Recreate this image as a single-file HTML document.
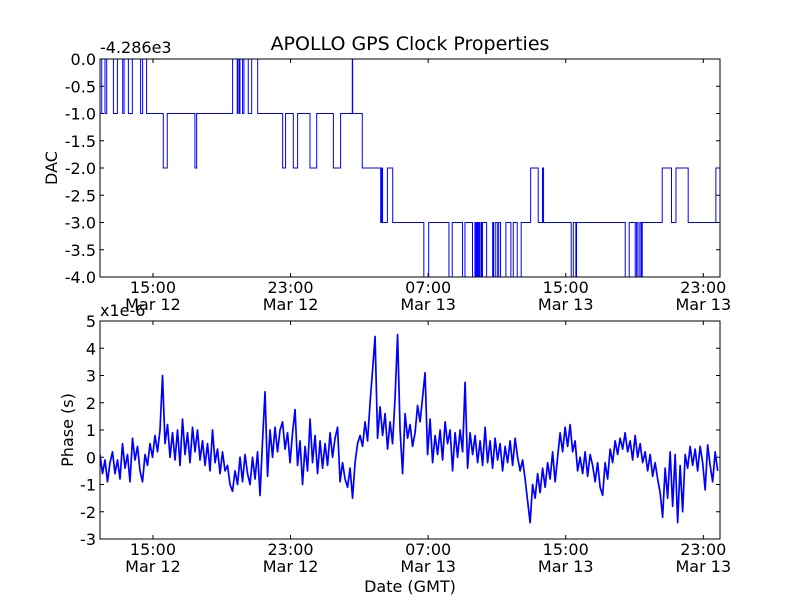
<!DOCTYPE html>
<html><head><meta charset="utf-8"><style>
body{margin:0;background:#fff;}
svg{display:block;font-family:"DejaVu Sans","Liberation Sans",sans-serif;}
</style></head><body>
<svg id="chart" width="800" height="600" viewBox="0 0 800 600" xmlns="http://www.w3.org/2000/svg">
<rect width="800" height="600" fill="#fff"/>
<text x="410" y="50" font-size="19" text-anchor="middle">APOLLO GPS Clock Properties</text>
<g id="top"></g>
<g id="bot"></g>
</svg>
<script>
// x: hours since 12:00 Mar 12
const xTickHours = [3, 11, 19, 27, 35];
const xTickTimes = ["15:00", "23:00", "07:00", "15:00", "23:00"];
const xTickDates = ["Mar 12", "Mar 12", "Mar 13", "Mar 13", "Mar 13"];
const dacTicks = [0, -0.5, -1, -1.5, -2, -2.5, -3, -3.5, -4];
const dacTickLabels = ["0.0", "-0.5", "-1.0", "-1.5", "-2.0", "-2.5", "-3.0", "-3.5", "-4.0"];
const phaseTicks = [5, 4, 3, 2, 1, 0, -1, -2, -3];
const phaseTickLabels = ["5", "4", "3", "2", "1", "0", "-1", "-2", "-3"];
// DAC change points: time (h) and value (offset -4.286e3)
const dacTimes = [-0.08,0.02,0.21,0.31,0.70,0.93,1.24,1.32,1.57,1.80,2.28,2.40,2.63,3.60,3.83,5.44,5.54,7.63,7.90,7.94,8.02,8.06,8.21,8.29,8.54,8.74,9.09,10.54,10.71,11.16,11.41,12.13,12.52,13.49,13.91,14.59,14.61,15.17,16.24,16.30,16.35,16.63,16.94,18.75,19.03,20.21,20.40,21.00,21.14,21.58,21.72,21.78,21.82,21.87,21.93,21.99,22.07,22.11,22.16,22.40,22.75,22.80,22.90,23.02,23.10,23.21,23.52,23.81,23.95,24.18,24.41,24.96,25.40,25.65,25.71,27.32,27.44,27.59,27.63,30.46,30.69,31.04,31.12,31.20,31.31,31.39,31.45,32.61,33.15,33.41,34.12,35.73];
const dacValues = [-1,0,-1,0,-1,0,-1,0,-1,0,-1,0,-1,-2,-1,-2,-1,0,-1,0,-1,0,-1,0,-1,0,-1,-2,-1,-2,-1,-2,-1,-2,-1,0,-1,-2,-3,-2,-3,-2,-3,-4,-3,-4,-3,-4,-3,-4,-3,-4,-3,-4,-3,-4,-3,-4,-3,-4,-3,-4,-3,-4,-3,-4,-3,-4,-3,-4,-3,-2,-3,-2,-3,-4,-3,-4,-3,-4,-3,-4,-3,-4,-3,-4,-3,-2,-3,-2,-3,-2];
const dacEnd = 35.97;
// Phase samples (x1e-6 s), uniform interval
const phaseStart = -0.08;
const phaseStepHours = 0.1454;
const phaseValues = [0.1,-0.6,-0.1,-0.9,-0.2,0.2,-0.6,-0.1,-0.8,0.5,-0.4,0.1,-0.9,0.7,-0.1,0.4,-0.5,-0.9,0.1,-0.3,0.5,0.0,0.8,0.2,1.0,3.0,0.5,1.2,0.0,0.9,-0.1,1.0,-0.3,1.4,0.1,0.9,-0.2,1.1,0.2,1.0,-0.1,0.6,-0.3,0.5,-0.5,1.0,-0.2,0.3,-0.6,0.2,-0.5,-0.3,-1.0,-1.25,-0.5,-1.0,0.0,-0.9,0.1,-0.6,-1.0,0.0,-0.8,0.2,-1.4,0.6,2.4,-0.7,1.0,0.0,1.1,0.2,1.0,1.3,0.3,0.9,-0.2,0.9,1.75,-0.3,0.6,-1.0,0.4,-0.5,1.4,-0.2,0.8,-0.6,0.6,-0.4,0.5,-0.3,0.9,0.0,0.7,1.1,-0.9,-0.2,-0.8,-1.1,-0.4,-1.5,-0.2,0.5,0.8,0.4,1.3,0.6,2.0,3.2,4.43,0.7,1.85,0.8,1.6,0.3,1.3,0.5,2.2,4.5,1.0,-0.6,1.6,0.7,
1.2,0.4,0.9,1.9,1.3,2.2,3.1,0.1,1.4,-0.2,0.8,0.1,1.0,-0.1,1.3,0.5,1.0,-0.5,0.9,0.0,1.0,0.2,2.75,-0.4,0.9,0.1,0.8,-0.2,0.6,-0.3,1.1,-0.2,0.6,-0.4,0.7,-0.1,0.5,-0.5,0.4,-0.2,0.6,-0.3,0.7,0.0,-0.5,-0.1,-0.8,-1.6,-2.4,-1.0,-1.5,-0.6,-1.3,-0.4,-1.1,-0.2,-0.8,0.2,-0.9,0.0,0.9,0.2,1.1,0.4,1.2,0.2,0.6,-0.5,0.0,-0.6,0.2,-0.7,0.1,-0.3,-0.9,-0.2,-1.1,-1.4,-0.2,-0.8,0.3,-0.2,0.6,0.1,0.7,0.3,0.9,0.2,0.6,-0.1,0.8,0.0,0.5,-0.2,0.2,-0.5,0.1,-0.7,-0.2,-0.8,-1.3,-2.2,-0.4,-1.5,0.2,-1.8,0.1,-2.4,-0.3,-2.0,0.1,-0.4,0.4,-0.3,0.3,-0.5,0.4,-0.2,-1.2,0.45,-0.3,-0.9,0.2,-0.5];

const NS = "http://www.w3.org/2000/svg";
const X0 = 100, X1 = 720, H0 = -0.08, H1 = 35.97;
const xs = h => X0 + (h - H0) / (H1 - H0) * (X1 - X0);
function mk(tag, attrs, parent, txt) {
  const e = document.createElementNS(NS, tag);
  for (const k in attrs) e.setAttribute(k, attrs[k]);
  if (txt !== undefined) e.textContent = txt;
  parent.appendChild(e);
  return e;
}
function axes(g, top, bot, vmax, vmin, yt, ytl, prefix) {
  const ys = v => top + (vmax - v) / (vmax - vmin) * (bot - top);
  xTickHours.forEach((h, i) => {
    const x = xs(h);
    const t1 = mk('line', {x1: x, x2: x, y1: bot, y2: bot - 4, stroke: '#000'}, g);
    
    
    const t2 = mk('line', {x1: x, x2: x, y1: top, y2: top + 4, stroke: '#000'}, g);
    
    
    const l1 = mk('text', {x: x, y: bot + 16, 'font-size': 16, 'text-anchor': 'middle'}, g, xTickTimes[i]);
    
    
    const l2 = mk('text', {x: x, y: bot + 33, 'font-size': 16, 'text-anchor': 'middle'}, g, xTickDates[i]);
    
    
  });
  yt.forEach((v, i) => {
    const y = ys(v);
    const a = mk('line', {x1: X0, x2: X0 + 4, y1: y, y2: y, stroke: '#000'}, g);
    
    
    const b = mk('line', {x1: X1, x2: X1 - 4, y1: y, y2: y, stroke: '#000'}, g);
    
    
    const l = mk('text', {x: X0 - 4, y: y + 6, 'font-size': 16, 'text-anchor': 'end'}, g, ytl[i]);
    
    
  });
  return ys;
}
// Top panel
const gt = document.getElementById('top');


const TT = 59, TB = 277;
const ysT = axes(gt, TT, TB, 0, -4, dacTicks, dacTickLabels, 'dac');
let d = '';
dacTimes.forEach((t, i) => {
  const x = xs(t), y = ysT(dacValues[i]);
  d += (i === 0 ? 'M' : 'L') + x.toFixed(2) + ' ' + (i === 0 ? y : ysT(dacValues[i - 1])).toFixed(2) + ' L' + x.toFixed(2) + ' ' + y.toFixed(2) + ' ';
});
d += 'L' + xs(dacEnd).toFixed(2) + ' ' + ysT(dacValues[dacValues.length - 1]).toFixed(2);
const cp1 = mk('clipPath', {id: 'c1'}, gt); mk('rect', {x: X0, y: TT - 1, width: X1 - X0, height: TB - TT + 2}, cp1);
const dl = mk('path', {d: d, fill: 'none', stroke: '#0000ff', 'stroke-width': 1, 'clip-path': 'url(#c1)'}, gt);


const f1 = mk('rect', {x: X0, y: TT, width: X1 - X0, height: TB - TT, fill: 'none', stroke: '#000'}, gt);


const off = mk('text', {x: 100, y: 53, 'font-size': 16}, gt, '-4.286e3');


const yl1 = mk('text', {x: 0, y: 0, 'font-size': 16, 'text-anchor': 'middle', transform: 'translate(57,168) rotate(-90)'}, gt, 'DAC');



// Bottom panel
const gb = document.getElementById('bot');


const BT = 321, BB = 539;
const ysB = axes(gb, BT, BB, 5, -3, phaseTicks, phaseTickLabels, 'phase');
let p = '';
phaseValues.forEach((v, i) => {
  p += (i === 0 ? 'M' : 'L') + xs(phaseStart + i * phaseStepHours).toFixed(2) + ' ' + ysB(v).toFixed(2) + ' ';
});
const cp2 = mk('clipPath', {id: 'c2'}, gb); mk('rect', {x: X0, y: BT, width: X1 - X0, height: BB - BT}, cp2);
const pl = mk('path', {d: p, fill: 'none', stroke: '#0000ff', 'stroke-width': 1.7, 'stroke-linejoin': 'round', 'clip-path': 'url(#c2)'}, gb);


const f2 = mk('rect', {x: X0, y: BT, width: X1 - X0, height: BB - BT, fill: 'none', stroke: '#000'}, gb);


const sc = mk('text', {x: 100, y: 316, 'font-size': 16}, gb, 'x1e-6');


const yl2 = mk('text', {x: 0, y: 0, 'font-size': 16, 'text-anchor': 'middle', transform: 'translate(73,430) rotate(-90)'}, gb, 'Phase (s)');


const xl = mk('text', {x: 410, y: 592, 'font-size': 16, 'text-anchor': 'middle'}, gb, 'Date (GMT)');


</script>
</body></html>
